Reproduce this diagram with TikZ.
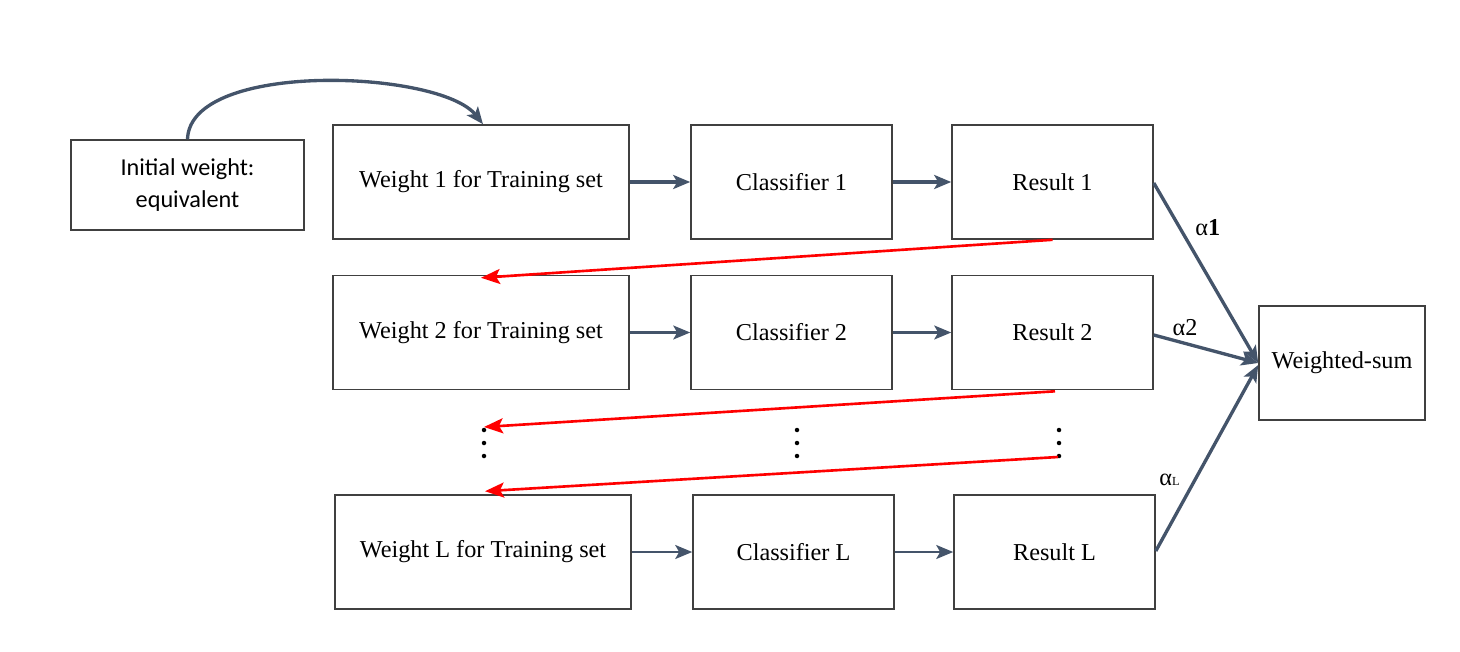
\documentclass[tikz,border=0pt]{standalone}
\usepackage{fontspec}
\setmainfont{Liberation Serif}
\newfontfamily\calibri{Carlito}
\usetikzlibrary{positioning, arrows.meta}
\definecolor{slate}{HTML}{44546A}
\begin{document}
\begin{tikzpicture}[
            x=0.2mm, y=-0.2mm,
            font=\fontsize{13.8}{16.5}\selectfont,
            box/.style={rectangle, draw=black!75, line width=0.9pt, minimum height=22.8mm, align=center, inner sep=0pt},
            wbox/.style={box, minimum width=59.2mm},
            cbox/.style={box, minimum width=40.2mm},
            arrow/.style={-{Stealth[length=3.4mm, width=2.8mm, inset=0.8mm]}, draw=slate, line width=1.9pt},
            thin arrow/.style={arrow, line width=1.3pt},
            back/.style={-{Stealth[length=3.8mm, width=3mm, inset=0.8mm]}, draw=red, line width=1.5pt}
        ]
        \useasboundingbox (0,0) rectangle (1460,652);
        \node[box, minimum width=46.6mm, minimum height=18mm, font=\calibri\fontsize{13.8}{18}\selectfont] (init) at (187.5,185) {Initial weight:\\equivalent};
        \node[wbox] (w1) at (481,182) {Weight 1 for Training set};
        \node[cbox] (c1) at (791.5,182) {Classifier 1};
        \node[cbox] (r1) at (1052.5,182) {Result 1};
        \node[wbox] (w2) at (481,332.5) {Weight 2 for Training set};
        \node[cbox] (c2) at (791.5,332.5) {Classifier 2};
        \node[cbox] (r2) at (1052.5,332.5) {Result 2};
        \node[wbox] (wL) at (483,552) {Weight L for Training set};
        \node[cbox] (cL) at (793.5,552) {Classifier L};
        \node[cbox] (rL) at (1054.5,552) {Result L};
        \node[box, minimum width=33.2mm] (wsum) at (1342,363) {Weighted-sum};
        % vertical dots
        \foreach \px in {484, 797, 1059}
            \foreach \py in {430, 443, 456}
                \fill (\px,\py) circle (0.45mm);
        \coordinate (dotsW) at (484,427);
        \coordinate (dotsR) at (1058,457);
        \draw[arrow] (init.north) .. controls (190,60) and (440,70) .. ([xshift=0.4mm]w1.north);
        \draw[arrow] (w1) -- (c1);
        \draw[arrow] (c1) -- (r1);
        \draw[thin arrow] (w2) -- (c2);
        \draw[thin arrow] (c2) -- (r2);
        \draw[thin arrow] (wL) -- (cL);
        \draw[thin arrow] (cL) -- (rL);
        \draw[back] (r1.south) -- ([yshift=-7.6mm]w1.south);
        \draw[back] ([shift={(0.5mm,-0.2mm)}]r2.south) -- (dotsW);
        \draw[back] (dotsR) -- ([xshift=0.4mm,yshift=0.6mm]wL.north);
        \draw[arrow] ([yshift=-0.2mm]r1.east) -- node[above right=0.5mm and -0.5mm, pos=0.35] {α\textbf{1}} ([yshift=0mm]wsum.west);
        \draw[arrow] ([yshift=-0.5mm]r2.east) -- node[above, pos=0.3] {α2} (wsum.west);
        \draw[arrow] ([yshift=0.2mm]rL.east) -- node[left=1.5mm, pos=0.38] {α\scriptsize L} ([yshift=-0.4mm]wsum.west);
        \end{tikzpicture}
\end{document}
